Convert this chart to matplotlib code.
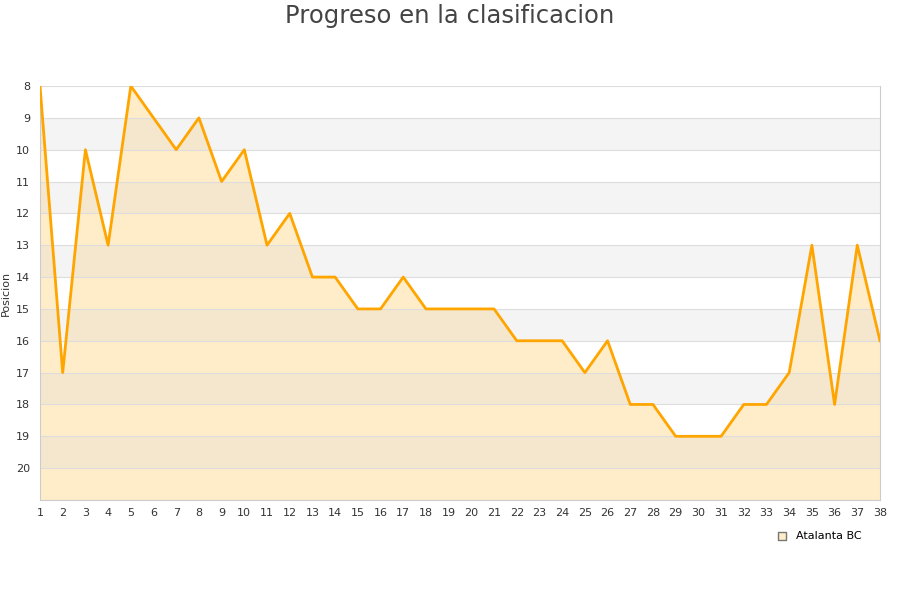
import matplotlib.pyplot as plt
import numpy as np

# jornadas y posiciones
jornadas = list(range(1, 39))
posicion = [8, 17, 10, 13, 8, 9, 10, 9, 11, 10, 13, 12, 14, 14, 15, 15, 14, 15, 15, 15,
            15, 16, 16, 16, 17, 16, 18, 18, 19, 19, 19, 18, 18, 17, 13, 18, 13, 16]
equipo = 'Atalanta BC'

fig = plt.figure(figsize=(9, 6), dpi=100)
ax = fig.add_axes([40/900, 100/600, 840/900, 414/600])

ax.fill_between(jornadas, posicion, 21, color='#ffecc8', zorder=1, linewidth=0)
# franjas alternas
for y in range(9, 21, 2):
    ax.axhspan(y, y+1, color='#dcdcdc', alpha=0.3, zorder=2, linewidth=0)
for y in range(8, 22):
    ax.axhline(y, color='#dddddd', linewidth=0.8, zorder=2)
ax.plot(jornadas, posicion, color='#ffa500', linewidth=2, zorder=3)

ax.set_xlim(1, 38)
ax.set_ylim(21, 8)
ax.set_xticks(jornadas)
ax.set_yticks(range(8, 21))
ax.tick_params(labelsize=8, colors='#333333', length=0, pad=6)
ax.tick_params(axis='y', pad=7)
for s in ['left', 'bottom', 'right']:
    ax.spines[s].set_color('#cccccc')
ax.spines['top'].set_visible(False)
ax.set_ylabel('Posicion', fontsize=8, color='#333333')
ax.yaxis.set_label_coords(-0.035, 0.5)

fig.suptitle('Progreso en la clasificacion', fontsize=17.5, color='#444444', y=0.993)

ax.scatter([], [], marker='s', s=40, facecolor='#ffecc8', edgecolor='#777777', label=equipo)
ax.legend(loc='upper right', bbox_to_anchor=(0.99, -0.05), frameon=False, fontsize=8,
          handletextpad=0.3)

fig.savefig('out.png')
